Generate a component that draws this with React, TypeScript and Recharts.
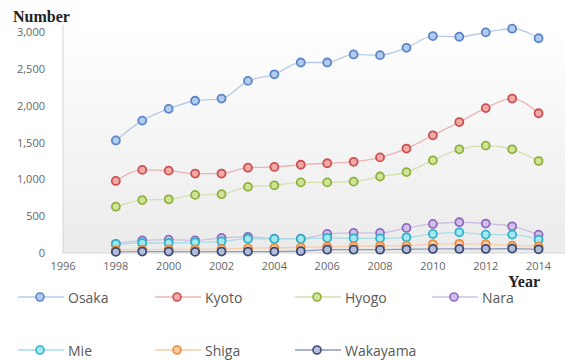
import React from 'react';
import { LineChart, Line, XAxis, YAxis, CartesianGrid } from 'recharts';

const years = [1998, 1999, 2000, 2001, 2002, 2003, 2004, 2005, 2006, 2007, 2008, 2009, 2010, 2011, 2012, 2013, 2014];
const osaka = [1530, 1800, 1960, 2070, 2100, 2340, 2430, 2590, 2590, 2700, 2690, 2790, 2950, 2940, 3000, 3050, 2920];
const kyoto = [980, 1130, 1120, 1080, 1080, 1160, 1170, 1200, 1220, 1240, 1300, 1420, 1600, 1780, 1970, 2100, 1900];
const hyogo = [630, 720, 730, 790, 800, 900, 920, 960, 960, 970, 1040, 1100, 1260, 1410, 1460, 1410, 1250];
const nara = [125, 172, 181, 172, 205, 220, 195, 195, 259, 273, 273, 341, 395, 418, 400, 363, 250];
const mie = [120, 136, 136, 145, 159, 191, 191, 191, 205, 200, 200, 213, 259, 281, 250, 250, 181];
const shiga = [40, 45, 50, 50, 55, 65, 70, 75, 85, 90, 95, 100, 120, 125, 120, 100, 90];
const wakayama = [15, 20, 20, 15, 20, 20, 20, 25, 45, 45, 45, 50, 55, 55, 55, 60, 50];

const xTicks = [1996, 1998, 2000, 2002, 2004, 2006, 2008, 2010, 2012, 2014];
const yTicks = [0, 500, 1000, 1500, 2000, 2500, 3000];

const series = [
  { key: 'Osaka', values: osaka, stroke: '#5b86c8', fill: '#b3cbef', line: '#b9cbe6' },
  { key: 'Kyoto', values: kyoto, stroke: '#c9514f', fill: '#f2aaa8', line: '#e9b5b4' },
  { key: 'Hyogo', values: hyogo, stroke: '#8fb03e', fill: '#cfe496', line: '#d3e2b0' },
  { key: 'Nara', values: nara, stroke: '#8e6bbd', fill: '#d2bfec', line: '#cdc1e2' },
  { key: 'Mie', values: mie, stroke: '#2fb3c8', fill: '#a6e8f2', line: '#aadde6' },
  { key: 'Shiga', values: shiga, stroke: '#eb8a3c', fill: '#f9c99e', line: '#f5d0b0' },
  { key: 'Wakayama', values: wakayama, stroke: '#3b4a72', fill: '#b3bdd9', line: '#8f9ab8' },
];

const data = years.map((y, i) => {
  const row: any = { year: y };
  series.forEach((s) => { row[s.key] = s.values[i]; });
  return row;
});

const makeDot = (stroke: string, fill: string) => (props: any) => {
  const { cx, cy, index } = props;
  if (cx == null || cy == null) return <g key={index} />;
  return (
    <circle key={index} cx={cx} cy={cy} r={4} fill={fill} stroke={stroke} strokeWidth={1.8} />
  );
};

const legendCols = [18, 155, 295, 432];
const legendRows = [297, 350];

export default function App() {
  return (
    <div style={{ position: 'fixed', left: 0, top: 0, width: 575, height: 360, background: '#fff', overflow: 'hidden' }}>
      <LineChart width={575} height={360} data={data} margin={{ top: 25, right: 10, left: 0, bottom: 77 }}>
        <defs>
          <linearGradient id="bg" x1="0" y1="0" x2="0" y2="1">
            <stop offset="0%" stopColor="#ffffff" />
            <stop offset="100%" stopColor="#ebebeb" />
          </linearGradient>
        </defs>
        <CartesianGrid horizontal={false} vertical={false} fill="url(#bg)" />
        <XAxis
          dataKey="year"
          type="number"
          domain={[1996, 2015]}
          ticks={xTicks}
          height={30}
          tickLine={false}
          tickMargin={3}
          axisLine={{ stroke: '#d4d4d4' }}
          tick={{ fill: '#666', fontSize: 11, fontFamily: 'Open Sans' }}
          allowDecimals={false}
        />
        <YAxis
          type="number"
          domain={[0, 3100]}
          ticks={yTicks}
          width={63}
          tickLine={false}
          tickMargin={12}
          axisLine={{ stroke: '#d4d4d4' }}
          tick={{ fill: '#666', fontSize: 11, fontFamily: 'Open Sans' }}
          tickFormatter={(v: number) => v.toLocaleString('en-US')}
        />
        {series.map((s) => (
          <Line
            key={s.key}
            dataKey={s.key}
            type="monotone"
            stroke={s.line}
            strokeWidth={1.3}
            dot={makeDot(s.stroke, s.fill)}
            activeDot={false}
            isAnimationActive={false}
          />
        ))}
      </LineChart>
      <div style={{ position: 'absolute', left: 13, top: 7, fontFamily: 'Liberation Serif', fontWeight: 'bold', fontSize: 16, lineHeight: '20px', color: '#222' }}>Number</div>
      <div style={{ position: 'absolute', left: 508, top: 272, fontFamily: 'Liberation Serif', fontWeight: 'bold', fontSize: 16, lineHeight: '20px', color: '#222' }}>Year</div>
      {series.map((s, i) => {
        const col = i < 4 ? i : i - 4;
        const row = i < 4 ? 0 : 1;
        const x = legendCols[col];
        const y = legendRows[row];
        return (
          <div key={s.key} style={{ position: 'absolute', left: x, top: y - 12, height: 24, display: 'flex', alignItems: 'center' }}>
            <svg width={46} height={24}>
              <line x1={0} y1={12} x2={46} y2={12} stroke={s.line} strokeWidth={1.5} />
              <circle cx={22} cy={12} r={4} fill={s.fill} stroke={s.stroke} strokeWidth={1.6} />
            </svg>
            <span style={{ marginLeft: 4, fontFamily: 'Open Sans', fontSize: 14, color: '#595959' }}>{s.key}</span>
          </div>
        );
      })}
    </div>
  );
}
